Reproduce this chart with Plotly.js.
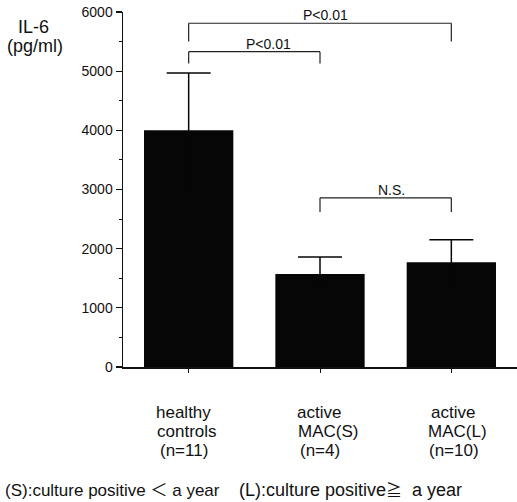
<!DOCTYPE html>
<html>
<head>
<meta charset="utf-8">
<script src="https://cdn.plot.ly/plotly-3.0.1.min.js"></script>
<style>
  html, body { margin: 0; padding: 0; background: #fff; }
  #chart { width: 517px; height: 502px; }
</style>
</head>
<body>
<div id="chart"></div>
<script>
// Serum IL-6 by group (mean + SE)
const groups = ['healthy controls', 'active MAC(S)', 'active MAC(L)'];
const groupLines = [
  ['healthy', 'controls', '(n=11)'],
  ['active', 'MAC(S)', '(n=4)'],
  ['active', 'MAC(L)', '(n=10)']
];
const il6Mean = [4000, 1570, 1770];
const il6Err = [970, 290, 380];
const yTicks = [0, 1000, 2000, 3000, 4000, 5000, 6000];

// Pairwise comparisons: [from group, to group, label]
const comparisons = [
  [0, 2, 'P<0.01'],
  [0, 1, 'P<0.01'],
  [1, 2, 'N.S.']
];
// Bracket geometry for each comparison: bar height, leg bottom, label offset
const bracketTop = [5810, 5330, 2860];
const bracketLeg = [5500, 5130, 2620];
const labelShift = [5, 14, 6];

// Horizontal nudges for each line of the group labels (px)
const lineShift = [[-5, -2, -5], [-1, 8, 0], [2, 6, 3]];
const lineY = [-45, -64, -83];

const CJK = 'font-family:Noto Sans CJK JP';
const footnotes = [
  '(S):culture positive <span style="' + CJK + '">\uff1c</span> a year',
  '(L):culture positive<span style="' + CJK + ';font-size:16px">\u2267</span>\u00a0 a\u00a0year'
];

const FONT = 'Liberation Sans, Arial, Helvetica, sans-serif';
const INK = '#060606';
const idx = groups.map((_, i) => i);

const trace = {
  type: 'bar',
  x: idx,
  y: il6Mean,
  width: 0.68,
  marker: { color: INK, line: { width: 0 } },
  error_y: {
    type: 'data',
    symmetric: true,
    array: il6Err,
    color: INK,
    thickness: 1.5,
    width: 22
  },
  hoverinfo: 'skip'
};

const shapes = [];
const annotations = [];

comparisons.forEach((c, i) => {
  const [a, b, txt] = c;
  const line = { color: '#222', width: 1.2 };
  shapes.push({ type: 'line', xref: 'x', yref: 'y', x0: a, x1: a, y0: bracketLeg[i], y1: bracketTop[i], line });
  shapes.push({ type: 'line', xref: 'x', yref: 'y', x0: a, x1: b, y0: bracketTop[i], y1: bracketTop[i], line });
  shapes.push({ type: 'line', xref: 'x', yref: 'y', x0: b, x1: b, y0: bracketLeg[i], y1: bracketTop[i], line });
  annotations.push({
    xref: 'x', yref: 'y', x: (a + b) / 2, y: bracketTop[i],
    xshift: labelShift[i], yshift: -2,
    xanchor: 'center', yanchor: 'bottom',
    text: txt, showarrow: false,
    font: { family: FONT, size: 14, color: '#111' }
  });
});

groupLines.forEach((lines, i) => {
  lines.forEach((t, j) => {
    annotations.push({
      xref: 'x', yref: 'paper', x: i, y: 0,
      xshift: lineShift[i][j], yshift: lineY[j],
      xanchor: 'center', yanchor: 'middle',
      borderpad: 0,
      text: t, showarrow: false,
      font: { family: FONT, size: 17, color: '#111' }
    });
  });
});

annotations.push({
  xref: 'paper', yref: 'paper', x: -0.228, y: 0.957,
  xanchor: 'center', yanchor: 'middle', borderpad: 0,
  text: 'IL-6', showarrow: false,
  font: { family: FONT, size: 18, color: '#111' }
});
annotations.push({
  xref: 'paper', yref: 'paper', x: -0.223, y: 0.903,
  xanchor: 'center', yanchor: 'middle', borderpad: 0,
  text: '(pg/ml)', showarrow: false,
  font: { family: FONT, size: 18, color: '#111' }
});

annotations.push({
  xref: 'paper', yref: 'paper', x: -0.305, y: -0.343,
  xanchor: 'left', yanchor: 'middle',
  text: footnotes[0], showarrow: false,
  font: { family: FONT, size: 17, color: '#111' }
});
annotations.push({
  xref: 'paper', yref: 'paper', x: 0.289, y: -0.343,
  xanchor: 'left', yanchor: 'middle',
  text: footnotes[1], showarrow: false,
  font: { family: FONT, size: 18, color: '#111' }
});

const layout = {
  width: 517,
  height: 502,
  margin: { l: 123, r: 0, t: 12, b: 135 },
  paper_bgcolor: '#fff',
  plot_bgcolor: '#fff',
  showlegend: false,
  xaxis: {
    range: [-0.5, 2.5],
    tickmode: 'array',
    tickvals: idx,
    ticktext: groups.map(() => ''),
    tickson: 'boundaries',
    ticks: 'outside',
    ticklen: 4,
    tickwidth: 1,
    tickcolor: '#111',
    showline: true,
    linecolor: '#111',
    linewidth: 1.5,
    showgrid: false,
    zeroline: false,
    fixedrange: true
  },
  yaxis: {
    range: [0, 6000],
    tickmode: 'array',
    tickvals: yTicks,
    ticktext: yTicks.map(String),
    ticks: 'outside',
    ticklen: 6,
    tickwidth: 1.2,
    tickcolor: '#111',
    minor: { dtick: 500, ticks: 'outside', ticklen: 3, tickwidth: 1, tickcolor: '#111' },
    showline: true,
    linecolor: '#111',
    linewidth: 1.5,
    showgrid: false,
    zeroline: false,
    tickfont: { family: FONT, size: 14, color: '#111' },
    fixedrange: true
  },
  shapes,
  annotations
};

Plotly.newPlot('chart', [trace], layout, { displayModeBar: false, staticPlot: true });
</script>
</body>
</html>
